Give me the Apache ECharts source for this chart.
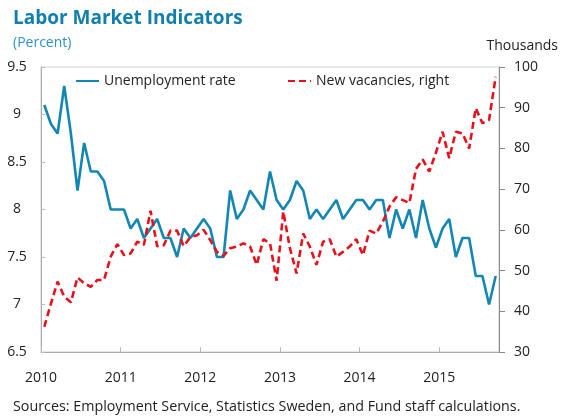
<!DOCTYPE html>
<html style="height: 100%">
<head>
    <meta charset="utf-8">
    <title>Labor Market Indicators</title>
    <script src="https://cdn.jsdelivr.net/npm/echarts@6/dist/echarts.min.js"></script>
</head>
<body style="height: 100%; margin: 0; background: #fff">
    <div id="main" style="width: 565px; height: 416px"></div>
    <script type="text/javascript">
        // monthly, Jan 2010 .. Sep 2015
        var yearLabels = ['2010', '2011', '2012', '2013', '2014', '2015'];

        // unemployment rate, percent (left axis)
        var unemployment = [
            9.1, 8.9, 8.8, 9.3, 8.8, 8.2, 8.7, 8.4, 8.4, 8.3, 8.0, 8.0,
            8.0, 7.8, 7.9, 7.7, 7.8, 7.9, 7.7, 7.7, 7.5, 7.8, 7.7, 7.8,
            7.9, 7.8, 7.5, 7.5, 8.2, 7.9, 8.0, 8.2, 8.1, 8.0, 8.4, 8.1,
            8.0, 8.1, 8.3, 8.2, 7.9, 8.0, 7.9, 8.0, 8.1, 7.9, 8.0, 8.1,
            8.1, 8.0, 8.1, 8.1, 7.7, 8.0, 7.8, 8.0, 7.7, 8.1, 7.8, 7.6,
            7.8, 7.9, 7.5, 7.7, 7.7, 7.3, 7.3, 7.0, 7.3
        ];

        // new vacancies, thousands (right axis)
        var vacancies = [
            36.2, 41.9, 47.3, 43.6, 42.2, 48.3, 46.9, 46.0, 47.7, 47.7, 53.4, 56.5,
            53.8, 54.2, 57.1, 56.3, 64.7, 56.0, 56.2, 59.8, 59.8, 56.0, 58.2, 58.7,
            60.0, 57.5, 54.6, 53.6, 55.5, 55.9, 56.7, 55.9, 51.4, 57.7, 56.7, 47.5,
            64.5, 55.5, 49.3, 59.1, 55.9, 51.4, 57.1, 57.7, 53.4, 54.6, 55.9, 57.7,
            53.8, 59.8, 59.1, 62.0, 65.7, 68.0, 67.3, 66.6, 75.0, 77.3, 74.3, 79.0,
            84.1, 77.6, 84.1, 83.7, 80.0, 89.9, 86.2, 87.0, 97.6
        ];

        var fontFamily = 'Open Sans';
        var blue = '#1386b4';
        var red = '#e8101b';

        // put each month in the middle of its slot on the time axis
        function pairs(arr) {
            return arr.map(function (v, i) { return [i + 0.5, v]; });
        }

        var myChart = echarts.init(document.getElementById('main'), null, { renderer: 'canvas' });

        var option = {
            animation: false,
            textStyle: { fontFamily: fontFamily },
            title: [
                {
                    text: 'Labor Market Indicators',
                    left: 13, top: 9, padding: 0,
                    textStyle: { fontFamily: fontFamily, fontSize: 19, fontWeight: 'bold', color: '#117fae' }
                },
                {
                    text: '(Percent)',
                    left: 13, top: 36, padding: 0,
                    textStyle: { fontFamily: fontFamily, fontSize: 14, fontWeight: 'normal', color: '#2f92c6' }
                },
                {
                    text: 'Thousands',
                    right: 7, top: 39, padding: 0,
                    textStyle: { fontFamily: fontFamily, fontSize: 14, fontWeight: 'normal', color: '#222' }
                },
                {
                    text: 'Sources: Employment Service, Statistics Sweden, and Fund staff calculations.',
                    left: 13, top: 400, padding: 0,
                    textStyle: { fontFamily: fontFamily, fontSize: 14.3, fontWeight: 'normal', color: '#222' }
                }
            ],
            legend: [
                {
                    data: ['Unemployment rate'],
                    left: 70, top: 69,
                    itemWidth: 23, itemHeight: 10,
                    itemStyle: { opacity: 0 },
                    textStyle: { fontFamily: fontFamily, fontSize: 14, color: '#222' }
                },
                {
                    data: ['New vacancies, right'],
                    left: 282, top: 69,
                    itemWidth: 23, itemHeight: 10,
                    itemStyle: { opacity: 0 },
                    textStyle: { fontFamily: fontFamily, fontSize: 14, color: '#222' }
                }
            ],
            grid: {
                left: 41, right: 66, top: 67, bottom: 64,
                outerBoundsMode: 'none',
                show: true, borderColor: '#cfcfcf', borderWidth: 1
            },
            xAxis: {
                type: 'value',
                min: 0, max: 69, interval: 12,
                splitLine: { show: false },
                axisLine: { lineStyle: { color: '#aaa' } },
                axisTick: { inside: true, length: 5, lineStyle: { color: '#bbb' } },
                axisLabel: {
                    fontSize: 14, color: '#222', margin: 19,
                    showMaxLabel: false,
                    formatter: function (v) { return v % 12 === 0 ? yearLabels[v / 12] : ''; }
                }
            },
            yAxis: [
                {
                    type: 'value',
                    min: 6.5, max: 9.5, interval: 0.5,
                    splitLine: { show: false },
                    axisLine: { show: true, lineStyle: { color: '#aaa' } },
                    axisTick: { show: true, inside: true, length: 4, lineStyle: { color: '#bbb' } },
                    axisLabel: { fontSize: 14, color: '#222', align: 'center', margin: 24 }
                },
                {
                    type: 'value',
                    min: 30, max: 100, interval: 10,
                    splitLine: { show: false },
                    axisLine: { show: true, lineStyle: { color: '#888' } },
                    axisTick: { show: true, length: 6, lineStyle: { color: '#888' } },
                    axisLabel: { fontSize: 14, color: '#222', margin: 15 }
                }
            ],
            series: [
                {
                    name: 'Unemployment rate',
                    type: 'line',
                    yAxisIndex: 0,
                    data: pairs(unemployment),
                    showSymbol: false,
                    symbol: 'none',
                    lineStyle: { color: blue, width: 2.6 },
                    itemStyle: { color: blue }
                },
                {
                    name: 'New vacancies, right',
                    type: 'line',
                    yAxisIndex: 1,
                    data: pairs(vacancies),
                    showSymbol: false,
                    symbol: 'none',
                    lineStyle: { color: red, width: 2.6, type: [7, 4] },
                    itemStyle: { color: red }
                }
            ]
        };

        myChart.setOption(option);
    </script>
</body>
</html>
